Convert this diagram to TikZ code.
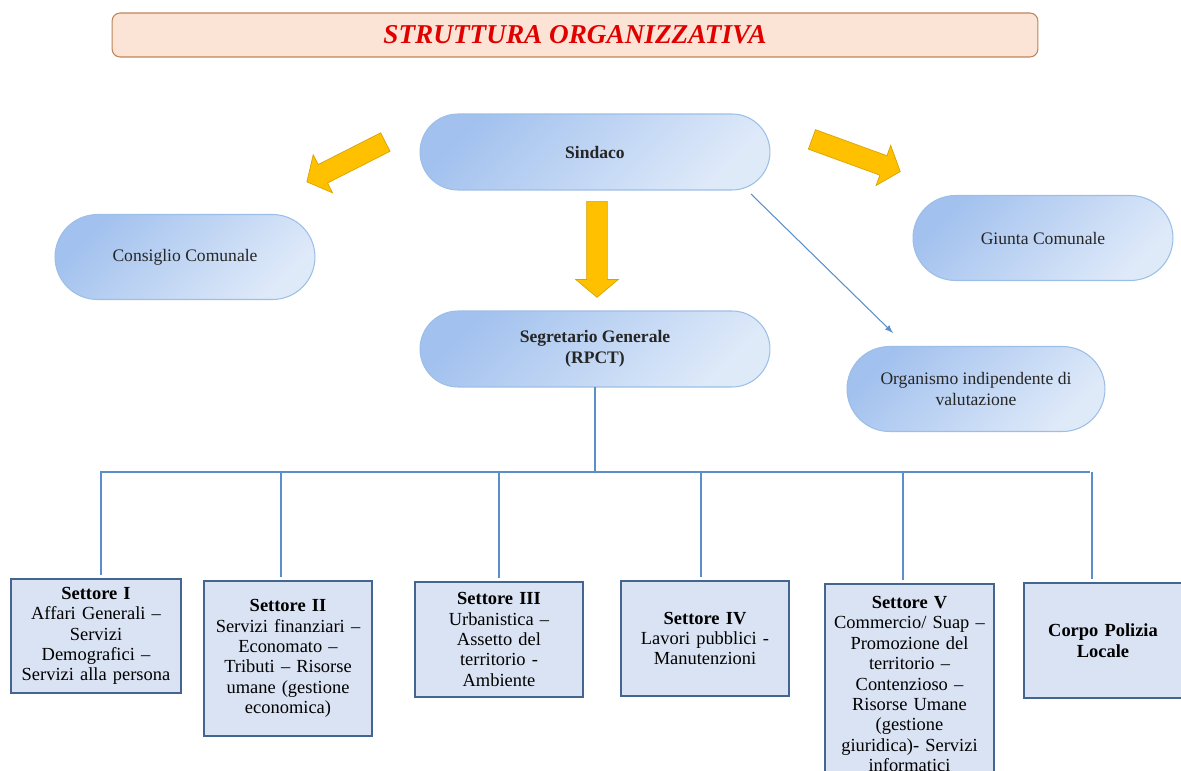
\documentclass[tikz,border=0pt]{standalone}
\usepackage{fontspec}
\setmainfont{Liberation Serif}
\usetikzlibrary{arrows, calc, positioning, shapes, shapes.misc, shapes.arrows}

\definecolor{oval dark}{HTML}{A2C1EE}
\definecolor{oval light}{HTML}{DFEAF9}
\definecolor{oval line}{HTML}{9CBFE7}
\definecolor{box fill}{HTML}{DAE3F3}
\definecolor{box line}{HTML}{44658F}
\definecolor{link blue}{HTML}{5B8FC9}
\definecolor{arrow yellow}{HTML}{FFC000}
\definecolor{arrow line}{HTML}{D9A300}
\definecolor{title fill}{HTML}{FBE4D5}
\definecolor{title line}{HTML}{BF8457}
\definecolor{title red}{HTML}{E00000}

\begin{document}
\begin{tikzpicture}[x=0.02cm, y=-0.02cm, font=\fontsize{10}{11.8}\selectfont]
\tikzset{every node/.style={inner sep=1mm, outer sep=0mm}}

\tikzstyle{title}=[rectangle, rounded corners=1.6mm, draw=title line, fill=title fill, semithick, minimum width=18.52cm, minimum height=8.8mm, text=title red, font=\fontsize{15.5}{18}\selectfont\bfseries\itshape]
\tikzstyle{organ}=[rounded rectangle, draw=oval line, top color=oval dark, bottom color=oval light, shading angle=45, semithick, align=center, text=black!85]
\tikzstyle{wide organ}=[organ, minimum width=7.2cm, minimum height=1.52cm]
\tikzstyle{side organ}=[organ, minimum width=5.4cm, minimum height=1.7cm]
\tikzstyle{strong}=[font=\fontsize{10}{11.8}\selectfont\bfseries]
\tikzstyle{sector}=[rectangle, draw=box line, fill=box fill, line width=0.7pt, text width=3.2cm, inner xsep=0.5mm, align=center, minimum width=3.36cm, minimum height=2.3cm, font=\fontsize{10.5}{11.6}\selectfont]
\tikzstyle{big arrow}=[single arrow, draw=arrow line, fill=arrow yellow, thin, inner sep=0.2cm, single arrow head extend=0.22cm, single arrow tip angle=100]
\tikzstyle{link}=[draw=link blue, line width=0.6pt]
\tikzstyle{post}=[->, link, >=latex]

\useasboundingbox (0,0) rectangle (1181,771);

\node[title] (title box) at (575,35) {STRUTTURA ORGANIZZATIVA};

\node[wide organ, strong] (sindaco) at (595,152) {Sindaco};
\node[side organ] (consiglio) at (185,257) {Consiglio Comunale};
\node[side organ] (giunta) at (1043,238) {Giunta Comunale};
\node[wide organ, strong] (segretario) at (595,349) {Segretario Generale\\(RPCT)};
\node[side organ, minimum width=5.36cm] (oiv) at (976,389) {Organismo indipendente di\\valutazione};

% yellow arrows
\node[big arrow, minimum height=1.76cm, rotate=206.9] (left arrow) at (350,160) {};
\node[big arrow, minimum height=1.88cm, rotate=340] (right arrow) at (852,154) {};
\node[big arrow, minimum height=1.92cm, rotate=270] (down arrow) at (597,245) {};

\node[sector, minimum width=3.4cm, minimum height=2.28cm] (settore 1) at (96,636) {\textbf{Settore I}\\Affari Generali –\\Servizi\\Demografici –\\Servizi alla persona};
\node[sector, minimum height=3.1cm] (settore 2) at (288,658.5) {\textbf{Settore II}\\Servizi finanziari –\\Economato –\\Tributi – Risorse\\umane (gestione\\economica)};
\node[sector] (settore 3) at (499,639.5) {\textbf{Settore III}\\Urbanistica –\\Assetto del\\territorio -\\Ambiente};
\node[sector] (settore 4) at (705,638.5) {\textbf{Settore IV}\\Lavori pubblici -\\Manutenzioni};
\node[sector, minimum width=3.38cm, minimum height=4cm] (settore 5) at (909.5,684) {\textbf{Settore V}\\Commercio/ Suap –\\Promozione del\\territorio –\\Contenzioso –\\Risorse Umane\\(gestione\\giuridica)- Servizi\\informatici};
\node[sector, text width=3.0cm, minimum width=3.16cm, font=\fontsize{10.5}{11.8}\selectfont\bfseries] (polizia) at (1103,640.5) {Corpo Polizia\\Locale};

% tree
\coordinate (bus west) at (100,472);
\coordinate (bus east) at (1090,472);
\coordinate (oiv start) at (751,194);
\coordinate (oiv tip) at (893,333);

\draw[link] (bus west) -- (bus east);
\draw[link] (segretario.south) -- (segretario.south |- bus west);
\foreach \x/\sect in {101/settore 1, 281/settore 2, 499/settore 3, 701/settore 4, 903/settore 5, 1092/polizia} {
    \coordinate (drop \sect) at (\x,472);
    \draw[link, shorten >=0.08cm] (drop \sect) -- (drop \sect |- \sect.north);
};

\draw[post] (oiv start) -- (oiv tip);

\end{tikzpicture}
\end{document}
